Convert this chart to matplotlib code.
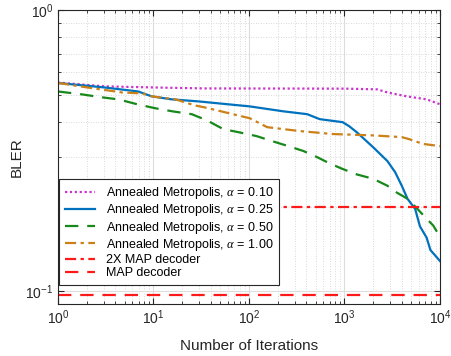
import numpy as np
import matplotlib
matplotlib.use("Agg")
import matplotlib.pyplot as plt

plt.rcParams["font.family"] = ["Liberation Sans", "DejaVu Sans"]
plt.rcParams["mathtext.fontset"] = "custom"
plt.rcParams["mathtext.rm"] = "Liberation Sans"
plt.rcParams["mathtext.it"] = "Liberation Serif:italic"
plt.rcParams["mathtext.bf"] = "Liberation Sans:bold"

# BLER vs. iterations for the annealed Metropolis decoder
it_a010 = [1, 3.09, 10.5, 34.7, 1000, 2200, 2818, 4467, 7244, 10000]
bler_a010 = [0.552, 0.535, 0.530, 0.526, 0.525, 0.522, 0.509, 0.493, 0.481, 0.462]

it_a025 = [1, 3.09, 6.92, 9.55, 15.5, 29.5, 102, 229, 407, 550, 955, 1120,
           1350, 1995, 2818, 3388, 3981, 4571, 5495, 6166, 7244, 7943, 10000]
bler_a025 = [0.550, 0.530, 0.513, 0.493, 0.481, 0.473, 0.454, 0.436, 0.426,
             0.409, 0.399, 0.386, 0.367, 0.325, 0.290, 0.265, 0.237, 0.213,
             0.196, 0.170, 0.155, 0.140, 0.128]

it_a050 = [1, 1.78, 2.88, 4.27, 6.76, 10.5, 15.8, 25.1, 36.3, 53.7, 79.4,
           120, 178, 257, 372, 513, 708, 955, 1350, 1995, 2818, 3388, 4571,
           5495, 6918, 8511, 10000]
bler_a050 = [0.513, 0.501, 0.489, 0.481, 0.462, 0.447, 0.436, 0.426, 0.405,
             0.377, 0.367, 0.356, 0.341, 0.328, 0.315, 0.300, 0.284, 0.272,
             0.260, 0.251, 0.237, 0.226, 0.213, 0.200, 0.184, 0.171, 0.156]

it_a100 = [1, 2.04, 4.68, 7.59, 9.55, 17, 26.9, 34.7, 102, 155, 339, 759,
           2000, 3981, 4786, 6607, 10000]
bler_a100 = [0.550, 0.530, 0.509, 0.505, 0.493, 0.481, 0.458, 0.450, 0.412,
             0.383, 0.371, 0.362, 0.358, 0.353, 0.347, 0.334, 0.328]

map2x_bler = 0.2
map_bler = 0.097

xlim = (1, 1e4)
ylim = (0.09, 1)

fig = plt.figure(figsize=(4.51, 3.56), dpi=100)
ax = fig.add_axes([0.1286, 0.146, 0.847, 0.826])

c_mag = "#CC33CC"
c_blue = "#0072BD"
c_green = "#16891A"
c_orange = "#CC8018"
c_red = "#FF1A1A"

ax.plot(it_a010, bler_a010, color=c_mag, lw=1.6, ls=(0, (1, 1.2)),
        label=r"Annealed Metropolis, $\alpha$ = 0.10")
ax.plot(it_a025, bler_a025, color=c_blue, lw=1.6, ls="-",
        label=r"Annealed Metropolis, $\alpha$ = 0.25")
ax.plot(it_a050, bler_a050, color=c_green, lw=1.6, ls=(0, (6, 4)),
        label=r"Annealed Metropolis, $\alpha$ = 0.50")
ax.plot(it_a100, bler_a100, color=c_orange, lw=1.6, ls=(0, (5, 2, 1.5, 2)),
        label=r"Annealed Metropolis, $\alpha$ = 1.00")
ax.plot(xlim, [map2x_bler] * 2, color=c_red, lw=1.6, ls=(0, (5, 2, 1.5, 2)),
        label="2X MAP decoder")
ax.plot(xlim, [map_bler] * 2, color=c_red, lw=1.6, ls=(0, (6, 4)),
        label="MAP decoder")

ax.set_xscale("log")
ax.set_yscale("log")
ax.set_xlim(*xlim)
ax.set_ylim(*ylim)

ax.grid(True, which="major", color="#dddddd", lw=0.8, ls="-")
ax.grid(True, which="minor", color="#cccccc", lw=0.6, ls=(0, (1, 2)))
ax.set_axisbelow(True)
ax.yaxis.set_minor_formatter(matplotlib.ticker.NullFormatter())

ax.tick_params(which="both", direction="in", top=True, right=True,
               colors="#262626", labelsize=10)
ax.tick_params(which="major", length=4)
ax.tick_params(which="minor", length=2)
for s in ax.spines.values():
    s.set_color("#262626")
    s.set_linewidth(0.8)

ax.set_xlabel("Number of Iterations", fontsize=11, color="#262626", labelpad=8)
ax.set_ylabel("BLER", fontsize=11, color="#262626", labelpad=1)

leg = ax.legend(loc="lower left", fontsize=9, frameon=True, fancybox=False,
                edgecolor="#262626", framealpha=1, borderpad=0.45,
                labelspacing=0.1, handlelength=2.4, handletextpad=0.9,
                borderaxespad=0.0, bbox_to_anchor=(0.003, 0.065))
leg.get_frame().set_linewidth(0.8)

fig.savefig("out.png", dpi=100)
